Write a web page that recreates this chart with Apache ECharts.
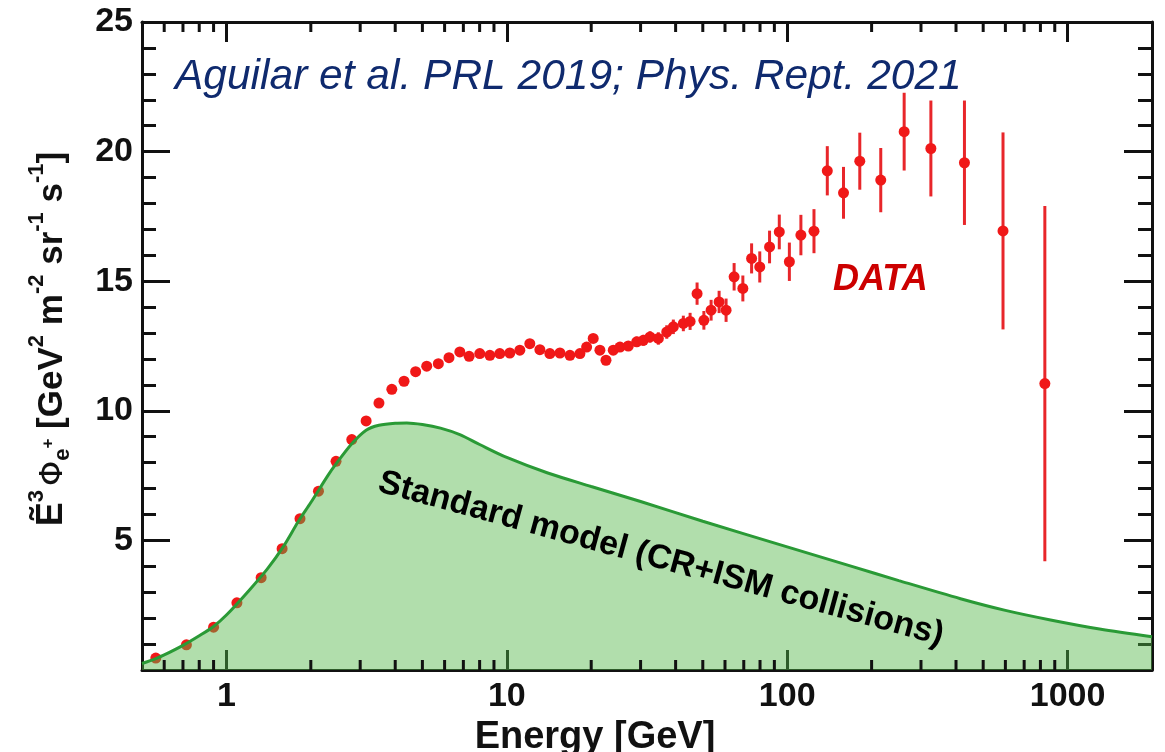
<!DOCTYPE html>
<html>
<head>
<meta charset="utf-8">
<script src="https://cdn.jsdelivr.net/npm/echarts@6/dist/echarts.min.js"></script>
<style>
  html, body { margin: 0; padding: 0; background: #ffffff; }
  #chart { width: 1165px; height: 752px; }
</style>
</head>
<body>
<div id="chart"></div>
<script>
// Positron flux (E^3-weighted), GeV^2 m^-2 sr^-1 s^-1
const energies = [0.56, 0.72, 0.90, 1.09, 1.33, 1.58, 1.83, 2.13, 2.46, 2.80, 3.15, 3.50, 3.89, 4.30,
  4.73, 5.18, 5.70, 6.22, 6.80, 7.34, 8.01, 8.70, 9.44, 10.25, 11.13, 12.08, 13.12, 14.24, 15.47,
  16.79, 18.23, 19.26, 20.33, 21.48, 22.58, 23.97, 25.33, 27.12, 29.06, 30.68, 32.42, 34.71, 37.19,
  39.26, 42.62, 45.05, 47.71, 50.45, 53.54, 57.17, 60.54, 64.67, 69.48, 74.65, 79.83, 86.51, 93.71,
  101.8, 111.9, 124.6, 139.0, 158.8, 181.5, 215.6, 261.3, 325.4, 428.7, 588.4, 829.6];
const fluxValues = [0.46, 0.97, 1.65, 2.59, 3.56, 4.68, 5.84, 6.90, 8.05, 8.89, 9.61, 10.30, 10.83, 11.14,
  11.51, 11.72, 11.82, 12.05, 12.27, 12.10, 12.21, 12.14, 12.21, 12.23, 12.34, 12.59, 12.36, 12.21, 12.23,
  12.14, 12.21, 12.46, 12.79, 12.34, 11.95, 12.34, 12.46, 12.50, 12.66, 12.72, 12.85, 12.79, 13.04,
  13.24, 13.37, 13.45, 14.52, 13.49, 13.88, 14.20, 13.88, 15.17, 14.72, 15.88, 15.55, 16.32, 16.90,
  15.75, 16.78, 16.93, 19.26, 18.41, 19.63, 18.90, 20.77, 20.12, 19.57, 16.94, 11.05];
const fluxErrors = [0.03, 0.03, 0.03, 0.04, 0.04, 0.05, 0.05, 0.05, 0.06, 0.06, 0.06, 0.07, 0.07, 0.07,
  0.08, 0.08, 0.08, 0.09, 0.09, 0.09, 0.1, 0.1, 0.1, 0.11, 0.11, 0.12, 0.12, 0.12, 0.13,
  0.13, 0.14, 0.14, 0.15, 0.15, 0.16, 0.17, 0.18, 0.19, 0.2, 0.21, 0.22, 0.24, 0.26,
  0.28, 0.3, 0.33, 0.43, 0.36, 0.4, 0.43, 0.45, 0.53, 0.5, 0.58, 0.6, 0.63, 0.67,
  0.74, 0.78, 0.85, 0.95, 1.0, 1.1, 1.24, 1.5, 1.85, 2.4, 3.8, 6.85];

// Secondary-production expectation
const modelEnergies = [0.5, 0.56, 0.6, 0.7, 0.8, 0.9, 1.0, 1.2, 1.4, 1.6, 1.8, 2.0, 2.3, 2.46, 2.8,
  3.15, 3.5, 4.0, 4.4, 5.0, 5.8, 6.8, 8.0, 10, 14, 20, 30, 50, 100, 170, 250, 415, 600, 869, 1300, 2000];
const modelValues = [0.25, 0.44, 0.58, 0.95, 1.32, 1.68, 2.12, 3.05, 3.9, 4.78, 5.71, 6.46, 7.5, 7.95, 8.73,
  9.25, 9.44, 9.52, 9.53, 9.47, 9.33, 9.08, 8.7, 8.2, 7.6, 7.08, 6.5, 5.74, 4.75, 4.0, 3.45, 2.75, 2.3, 1.93, 1.58, 1.28];

const xMajorTicks = [1, 10, 100, 1000];
const yTickLabels = [5, 10, 15, 20, 25];

const FONT = '"Liberation Sans", Arial, Helvetica, sans-serif';
const INK = '#111111';

// minor decade ticks (2..9 x 10^k) inside the frame
const xMinorTicks = [];
for (let k = -1; k <= 3; k++) {
  for (let m = 2; m <= 9; m++) {
    const v = m * Math.pow(10, k);
    if (v > 0.5 && v < 2000) xMinorTicks.push(v);
  }
}

const chart = echarts.init(document.getElementById('chart'), null, { renderer: 'canvas' });

const isDecade = v => {
  const l = Math.log10(v);
  return Math.abs(l - Math.round(l)) < 1e-6;
};

const frameLine = { show: true, onZero: false, lineStyle: { color: INK, width: 3 } };

const option = {
  backgroundColor: '#ffffff',
  animation: false,
  grid: { left: 142, right: 13, top: 22, bottom: 82, containLabel: false, outerBoundsMode: 'none' },
  xAxis: [
    {
      type: 'log', logBase: 10, min: 0.5, max: 2000, position: 'bottom',
      axisLine: frameLine,
      axisTick: { show: true, inside: true, length: 20, lineStyle: { color: INK, width: 3 } },
      axisLabel: {
        show: true, margin: 10, color: INK, fontFamily: FONT, fontWeight: 'bold', fontSize: 34,
        formatter: v => (isDecade(v) && xMajorTicks.includes(Math.round(v))) ? String(Math.round(v)) : ''
      },
      splitLine: { show: false },
      name: 'Energy [GeV]', nameLocation: 'middle', nameGap: 37,
      nameTextStyle: { color: INK, fontFamily: FONT, fontWeight: 'bold', fontSize: 38, padding: [0, 104, 0, 0] }
    },
    {
      type: 'log', logBase: 10, min: 0.5, max: 2000, position: 'top',
      axisLine: frameLine,
      axisTick: { show: true, inside: true, length: 20, lineStyle: { color: INK, width: 3 } },
      axisLabel: { show: false },
      splitLine: { show: false }
    }
  ],
  yAxis: [
    {
      type: 'value', min: 0, max: 25, interval: 5, position: 'left',
      axisLine: frameLine,
      axisTick: { show: true, inside: true, length: 28, lineStyle: { color: INK, width: 3 } },
      minorTick: { show: true, splitNumber: 5, length: 14, lineStyle: { color: INK, width: 3 } },
      axisLabel: {
        margin: 9, color: INK, fontFamily: FONT, fontWeight: 'bold', fontSize: 34,
        formatter: v => yTickLabels.includes(v) ? String(v) : ''
      },
      splitLine: { show: false },
      name: '{e|Ẽ}{s3|3}{phi|Φ}{sub|e}{sp|+}{t| [GeV}{s|2}{t| m}{s|-2}{t| sr}{s|-1}{t| s}{s|-1}{t|]}',
      nameLocation: 'middle', nameRotate: 90, nameGap: 72,
      nameTextStyle: {
        color: INK, fontFamily: FONT, fontWeight: 'bold', fontSize: 35, padding: [0, 0, 0, 14],
        rich: {
          e: { fontFamily: FONT, fontWeight: 'bold', fontSize: 36, lineHeight: 44, verticalAlign: 'bottom', color: INK },
          s3: { fontFamily: FONT, fontWeight: 'bold', fontSize: 22, lineHeight: 22, verticalAlign: 'top', color: INK },
          phi: { fontFamily: '"DejaVu Sans", sans-serif', fontWeight: 'normal', fontSize: 32, lineHeight: 44, verticalAlign: 'bottom', color: INK, padding: [0, 0, 0, 4] },
          sub: { fontFamily: FONT, fontWeight: 'bold', fontSize: 22, lineHeight: 22, verticalAlign: 'bottom', color: INK, padding: [0, 0, -4, 0] },
          sp: { fontFamily: FONT, fontWeight: 'bold', fontSize: 17, lineHeight: 17, verticalAlign: 'middle', color: INK },
          t: { fontFamily: FONT, fontWeight: 'bold', fontSize: 35, lineHeight: 44, verticalAlign: 'bottom', color: INK },
          s: { fontFamily: FONT, fontWeight: 'bold', fontSize: 22, lineHeight: 22, verticalAlign: 'top', color: INK }
        }
      }
    },
    {
      type: 'value', min: 0, max: 25, interval: 5, position: 'right',
      axisLine: frameLine,
      axisTick: { show: true, inside: true, length: 28, lineStyle: { color: INK, width: 3 } },
      minorTick: { show: true, splitNumber: 5, length: 14, lineStyle: { color: INK, width: 3 } },
      axisLabel: { show: false },
      splitLine: { show: false }
    }
  ],
  series: [
    {
      name: 'error bars', type: 'custom', xAxisIndex: 0, yAxisIndex: 0, z: 2,
      data: energies.map((e, i) => [e, fluxValues[i] - fluxErrors[i], fluxValues[i] + fluxErrors[i]]),
      encode: { x: 0, y: [1, 2] },
      renderItem: (params, api) => {
        const p1 = api.coord([api.value(0), api.value(1)]);
        const p2 = api.coord([api.value(0), api.value(2)]);
        return {
          type: 'line',
          shape: { x1: p1[0], y1: p1[1], x2: p2[0], y2: p2[1] },
          style: { stroke: '#e8262a', lineWidth: 3 }
        };
      }
    },
    {
      name: 'DATA', type: 'scatter', xAxisIndex: 0, yAxisIndex: 0, z: 3,
      symbol: 'circle', symbolSize: 11,
      itemStyle: { color: '#f01818', opacity: 1 },
      data: energies.map((e, i) => [e, fluxValues[i]])
    },
    {
      name: 'Standard model', type: 'line', xAxisIndex: 0, yAxisIndex: 0, z: 4,
      smooth: 0.3, showSymbol: false, symbol: 'none',
      lineStyle: { color: '#2a9a36', width: 3 },
      areaStyle: { color: 'rgba(82,182,70,0.45)', opacity: 1, origin: 'start' },
      data: modelEnergies.map((e, i) => [e, modelValues[i]])
    },
    {
      name: 'minor ticks', type: 'custom', xAxisIndex: 0, yAxisIndex: 0, z: 6, silent: true,
      data: xMinorTicks.map(v => [v, 1]),
      renderItem: (params, api) => {
        const x = api.coord([api.value(0), 1])[0];
        const cs = params.coordSys;
        const bottom = cs.y + cs.height;
        return {
          type: 'group',
          children: [
            { type: 'line', shape: { x1: x, y1: bottom, x2: x, y2: bottom - 10 }, style: { stroke: INK, lineWidth: 3 } },
            { type: 'line', shape: { x1: x, y1: cs.y, x2: x, y2: cs.y + 10 }, style: { stroke: INK, lineWidth: 3 } }
          ]
        };
      }
    }
  ],
  graphic: [
    {
      type: 'text', left: 175, top: 56, z: 10,
      style: { text: 'Aguilar et al. PRL 2019; Phys. Rept. 2021', font: 'italic 42.5px ' + FONT, fill: '#0f2a6e' }
    },
    {
      type: 'text', left: 833, top: 262, z: 10,
      style: { text: 'DATA', font: 'italic bold 36px ' + FONT, fill: '#cc0000' }
    },
    {
      type: 'text', x: 661, y: 559, rotation: -0.267, z: 10,
      style: { text: 'Standard model (CR+ISM collisions)', font: 'bold 34px ' + FONT, fill: '#000000', align: 'center', verticalAlign: 'middle' }
    }
  ]
};

chart.setOption(option);
</script>
</body>
</html>
